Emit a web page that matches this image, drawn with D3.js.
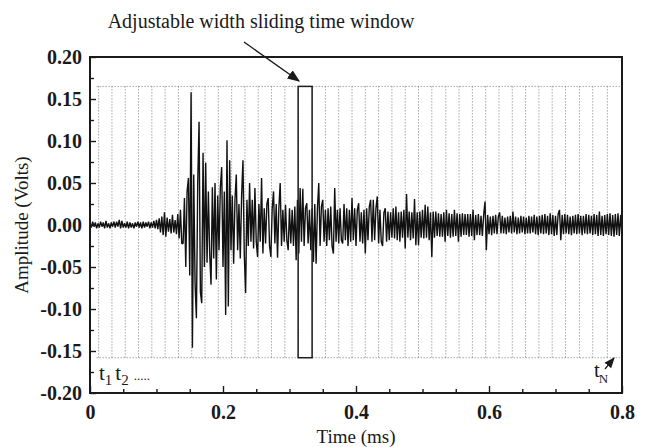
<!doctype html>
<html>
<head>
  <meta charset="utf-8">
  <script src="https://d3js.org/d3.v7.min.js"></script>
  <style>
    body {margin: 0; background: #fff;}
    text {font-family: "Liberation Serif", "Times New Roman", serif; fill: #1a1a1a;}
    .tick line {stroke: #1a1a1a; stroke-width: 1.4;}
    .tick text {font-weight: bold; font-size: 20px;}
  </style>
</head>
<body>
  <svg width="646" height="447"></svg>
<script>
const width = 646, height = 447

// signal samples, one every 0.002 ms from 0 to 0.8 ms (volts)
const dt = 0.002
const signal = [
  0.002,-0.003,0.004,-0.002,0.003,-0.004,0.002,-0.003,0.004,-0.002,
  0.003,-0.004,0.005,-0.003,0.002,-0.004,0.003,-0.002,0.004,-0.003,
  0.004,-0.002,0.006,-0.004,0.005,-0.003,0.002,-0.003,0.004,-0.004,
  0.003,-0.003,0.002,-0.004,0.003,-0.002,0.004,-0.003,0.003,-0.004,
  0.004,-0.003,0.003,-0.002,0.004,-0.004,0.003,-0.003,0.005,-0.004,
  0.006,-0.005,0.008,-0.009,0.010,-0.012,0.015,-0.014,0.009,-0.008,
  0.007,-0.010,0.012,-0.009,0.006,-0.011,0.013,-0.016,0.018,-0.022,
  -0.022,0.032,-0.050,0.040,0.056,-0.060,0.158,-0.146,0.060,-0.070,
  -0.111,0.050,0.123,-0.080,-0.093,0.086,-0.050,0.074,-0.045,0.040,
  -0.035,-0.071,0.045,-0.040,0.050,-0.065,0.035,-0.030,0.045,0.069,
  -0.050,0.040,-0.107,0.101,-0.097,0.077,-0.030,0.035,-0.046,0.030,
  0.060,-0.030,0.025,-0.040,0.035,0.077,-0.035,-0.081,0.030,-0.025,
  0.050,-0.020,0.030,-0.028,0.044,-0.020,-0.038,0.025,-0.020,0.056,
  -0.034,0.020,-0.022,0.025,0.032,-0.025,-0.038,0.020,0.040,-0.022,
  0.025,-0.039,0.020,0.050,-0.025,0.018,-0.020,0.024,-0.018,-0.030,
  0.020,-0.022,0.018,-0.025,0.022,-0.042,0.030,-0.034,0.044,-0.020,
  0.043,-0.025,0.020,0.026,-0.022,0.018,-0.030,0.020,-0.044,0.025,
  -0.046,0.020,0.050,-0.025,0.022,0.030,-0.020,0.018,-0.025,0.020,
  -0.018,0.022,-0.025,-0.034,0.044,-0.020,0.018,-0.022,0.020,-0.018,
  -0.022,0.025,-0.018,0.020,-0.025,0.018,-0.020,0.032,-0.018,0.020,
  -0.025,0.018,0.026,-0.020,0.015,-0.022,0.018,-0.034,0.020,-0.018,
  0.022,0.030,-0.020,0.030,-0.018,0.020,0.034,-0.022,0.018,-0.020,
  -0.025,0.015,0.020,-0.020,0.016,-0.018,0.015,-0.015,0.020,-0.016,
  0.022,-0.018,0.015,-0.020,0.016,-0.015,0.018,-0.028,0.037,-0.015,
  0.016,-0.018,0.015,-0.016,0.031,-0.024,0.015,-0.024,0.016,-0.015,
  0.018,-0.016,0.024,-0.015,0.022,-0.018,0.015,-0.038,0.016,-0.015,
  0.016,-0.013,0.014,-0.014,0.013,-0.014,0.015,-0.020,0.018,-0.013,
  0.014,-0.015,0.013,-0.014,0.018,-0.013,0.014,-0.020,0.013,-0.014,
  0.014,-0.012,0.013,-0.012,0.013,-0.014,0.013,-0.013,0.018,-0.018,
  0.012,-0.012,0.013,-0.012,0.011,-0.013,0.012,0.028,-0.030,0.012,
  -0.011,0.010,-0.012,0.011,-0.010,0.012,-0.011,0.010,0.015,-0.010,
  0.011,-0.010,0.009,-0.011,0.010,-0.009,0.011,-0.010,0.016,-0.009,
  0.010,-0.011,0.009,-0.010,0.011,-0.009,0.010,-0.011,0.009,-0.010,
  0.011,-0.010,0.010,-0.009,0.012,-0.011,0.010,-0.012,0.011,-0.010,
  0.012,-0.011,0.013,-0.010,0.011,-0.012,0.014,-0.011,0.012,-0.013,
  0.011,-0.012,0.013,0.018,-0.018,0.012,-0.011,0.013,-0.010,0.012,
  -0.011,0.010,-0.012,0.011,-0.010,0.012,-0.011,0.013,-0.010,0.011,
  -0.012,0.011,-0.010,0.013,-0.011,0.012,-0.010,0.011,-0.012,0.013,
  -0.011,0.012,-0.013,0.016,-0.012,0.011,-0.013,0.012,-0.011,0.013,
  -0.012,0.014,-0.013,0.012,-0.014,0.013,-0.012,0.014,-0.013,0.012,
  -0.011
]

// boundaries of the sliding time windows (ms)
const windowEdges = [0.013,0.033,0.053,0.073,0.093,0.113,0.133,0.153,0.173,0.193,
  0.213,0.233,0.253,0.273,0.293,0.313,0.334,0.354,0.374,0.394,0.414,0.434,0.454,
  0.474,0.494,0.514,0.535,0.555,0.575,0.595,0.615,0.635,0.655,0.675,0.695,0.715,
  0.736,0.756,0.778]
const windowTop = 0.165, windowBottom = -0.158
const highlighted = [0.313, 0.334]

const xTicks = [0, 0.2, 0.4, 0.6, 0.8]
const xMinor = [0.05,0.1,0.15,0.25,0.3,0.35,0.45,0.5,0.55,0.65,0.7,0.75]
const yTicks = [-0.20,-0.15,-0.10,-0.05,0,0.05,0.10,0.15,0.20]
const yMinor = [-0.175,-0.125,-0.075,-0.025,0.025,0.075,0.125,0.175]

const svg = d3.select('svg')
const x = d3.scaleLinear().domain([0, 0.8]).range([90, 622])
const y = d3.scaleLinear().domain([-0.2, 0.2]).range([393, 57])

// dotted window lines
const win = svg.append('g').attr('stroke', '#7a7a7a').attr('stroke-width', 1)
  .attr('stroke-dasharray', '1,2')
win.selectAll('line.v').data(windowEdges).join('line').attr('class', 'v')
  .attr('x1', d => x(d)).attr('x2', d => x(d))
  .attr('y1', y(windowTop)).attr('y2', y(windowBottom))
win.selectAll('line.h').data([windowTop, windowBottom]).join('line').attr('class', 'h')
  .attr('x1', x(0.01)).attr('x2', x(0.8))
  .attr('y1', d => y(d)).attr('y2', d => y(d))

// signal
const line = d3.line().x((d, i) => x(i * dt)).y(d => y(d))
svg.append('path').datum(signal).attr('d', line)
  .attr('fill', 'none').attr('stroke', '#111').attr('stroke-width', 1.4)
  .attr('stroke-linejoin', 'bevel')

// highlighted window
svg.append('rect')
  .attr('x', x(highlighted[0])).attr('y', y(windowTop))
  .attr('width', x(highlighted[1]) - x(highlighted[0]))
  .attr('height', y(windowBottom) - y(windowTop))
  .attr('fill', 'none').attr('stroke', '#1e1e1e').attr('stroke-width', 1.5)

// axes
const fmt = d => d3.format('.2f')(d).replace('\u2212', '-')
svg.append('g').attr('transform', 'translate(90,0)')
  .call(d3.axisLeft(y).tickValues(yTicks).tickFormat(fmt).tickSize(-6).tickPadding(8))
  .call(g => g.select('.domain').remove())
svg.append('g').attr('transform', 'translate(90,0)')
  .call(d3.axisLeft(y).tickValues(yMinor).tickFormat('').tickSize(-4))
  .call(g => g.select('.domain').remove())
svg.append('g').attr('transform', 'translate(0,393)')
  .call(d3.axisBottom(x).tickValues(xTicks).tickFormat(d => d === 0 ? '0' : d3.format('.1f')(d))
    .tickSize(-7).tickPadding(8))
  .call(g => g.select('.domain').remove())
  .call(g => g.selectAll('text').attr('dy', '0.9em'))
svg.append('g').attr('transform', 'translate(0,393)')
  .call(d3.axisBottom(x).tickValues(xMinor).tickFormat('').tickSize(-4))
  .call(g => g.select('.domain').remove())

// frame
svg.append('rect').attr('x', 90).attr('y', 57).attr('width', 532).attr('height', 336)
  .attr('fill', 'none').attr('stroke', '#1a1a1a').attr('stroke-width', 2)

// axis titles
svg.append('text').attr('x', 356).attr('y', 443).attr('text-anchor', 'middle')
  .attr('font-size', 19).text('Time (ms)')
svg.append('text').attr('transform', 'translate(28,225) rotate(-90)')
  .attr('text-anchor', 'middle').attr('font-size', 19).text('Amplitude (Volts)')

// annotation
svg.append('defs').append('marker').attr('id', 'head')
  .attr('viewBox', '0 0 10 10').attr('refX', 9).attr('refY', 5)
  .attr('markerWidth', 9).attr('markerHeight', 9).attr('orient', 'auto')
  .append('path').attr('d', 'M0,1 L10,5 L0,9 Z').attr('fill', '#1a1a1a')
svg.append('text').attr('x', 261).attr('y', 28).attr('text-anchor', 'middle')
  .attr('font-size', 20).text('Adjustable width sliding time window')
svg.append('line').attr('x1', 244).attr('y1', 42).attr('x2', 299).attr('y2', 81)
  .attr('stroke', '#1a1a1a').attr('stroke-width', 1.4).attr('marker-end', 'url(#head)')

const t1 = svg.append('text').attr('x', 99).attr('y', 380).attr('font-size', 21)
t1.append('tspan').text('t')
t1.append('tspan').attr('font-size', 15).attr('dy', 5).text('1')
t1.append('tspan').attr('dy', -5).attr('dx', 3).text('t')
t1.append('tspan').attr('font-size', 15).attr('dy', 5).text('2')
t1.append('tspan').attr('dy', -5).attr('dx', 5).attr('font-size', 13).text('.....')

const tn = svg.append('text').attr('x', 594).attr('y', 377).attr('font-size', 21)
tn.append('tspan').text('t')
tn.append('tspan').attr('font-size', 13).attr('dy', 6).attr('dx', -1).text('N')
svg.append('line').attr('x1', 605).attr('y1', 369).attr('x2', 614).attr('y2', 358)
  .attr('stroke', '#1a1a1a').attr('stroke-width', 1.2).attr('marker-end', 'url(#head)')
</script>
</body>
</html>
